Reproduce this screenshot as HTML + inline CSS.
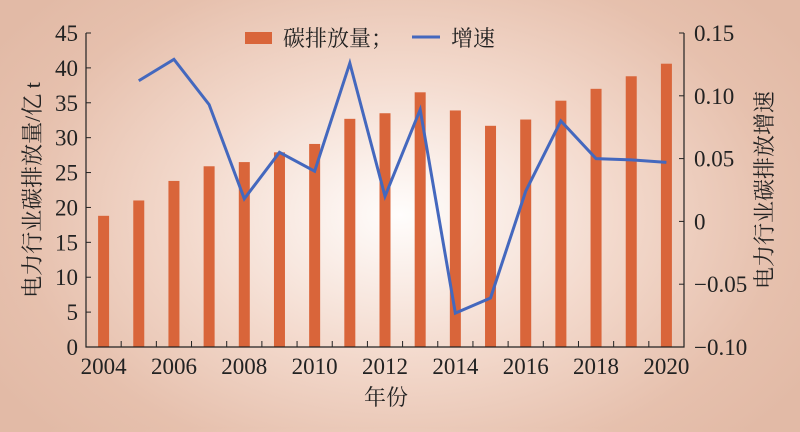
<!DOCTYPE html>
<html><head><meta charset="utf-8"><style>
body{margin:0;width:800px;height:427px;overflow:hidden;background:radial-gradient(ellipse 480px 320px at 400px 215px,#fffdfc 0%,#f3d9cc 45%,#e6c0ad 80%,#e2baa6 100%);}
text{font-family:"Liberation Serif","Noto Serif CJK SC",serif;fill:#222;}
</style></head><body>
<svg id="chart" width="800" height="427" xmlns="http://www.w3.org/2000/svg"></svg>
<script>
const years=["2004","2005","2006","2007","2008","2009","2010","2011","2012","2013","2014","2015","2016","2017","2018","2019","2020"];
const emissions=[18.8,21,23.8,25.9,26.5,27.9,29.1,32.7,33.5,36.5,33.9,31.7,32.6,35.3,37,38.8,40.6];
const growth=[null,0.112,0.129,0.093,0.018,0.055,0.040,0.126,0.020,0.089,-0.073,-0.061,0.024,0.080,0.050,0.049,0.047];
const leftTicks=[0,5,10,15,20,25,30,35,40,45];
const rightTicks=[-0.10,-0.05,0,0.05,0.10,0.15];
const rightLabels=["\u22120.10","\u22120.05","0","0.05","0.10","0.15"];
const xLabels=["2004","2006","2008","2010","2012","2014","2016","2018","2020"];

const svg=document.getElementById('chart');
const NS="http://www.w3.org/2000/svg";
const L=86,R=684,T=33,B=347;
const bw=(R-L)/years.length;
const xc=i=>L+bw*(i+0.5);
const yl=v=>B-(v/45)*(B-T);
const yr=v=>B-((v+0.10)/0.25)*(B-T);
function mk(tag,attrs,parent){const e=document.createElementNS(NS,tag);for(const k in attrs)e.setAttribute(k,attrs[k]);(parent||svg).appendChild(e);return e;}

emissions.forEach((v,i)=>{
  const r=mk('rect',{x:xc(i)-5.5,y:yl(v),width:11,height:B-yl(v),fill:'#d9653a'});
  
  
});
let d='';growth.forEach((g,i)=>{if(g===null)return;d+=(d?'L':'M')+xc(i)+','+yr(g);});
const line=mk('path',{d:d,fill:'none',stroke:'#4468be','stroke-width':3,'stroke-linejoin':'miter'});



// axes
const ax=mk('path',{d:`M${L},${T}V${B}H${R}V${T}`,fill:'none',stroke:'#222','stroke-width':1.2});


leftTicks.forEach(v=>{
  mk('line',{x1:L,x2:L+5,y1:yl(v),y2:yl(v),stroke:'#222'});
  const t=mk('text',{x:L-8,y:yl(v)+8,'text-anchor':'end','font-size':23});t.textContent=v;
  
  
});
rightTicks.forEach((v,i)=>{
  mk('line',{x1:R,x2:R-5,y1:yr(v),y2:yr(v),stroke:'#222'});
  const t=mk('text',{x:R+10,y:yr(v)+8,'font-size':23});t.textContent=rightLabels[i];
  
  
});
for(let i=1;i<years.length;i++){mk('line',{x1:L+bw*i,x2:L+bw*i,y1:B,y2:B-6,stroke:'#222'});}
xLabels.forEach(lb=>{
  const i=years.indexOf(lb);
  const t=mk('text',{x:xc(i),y:B+27,'text-anchor':'middle','font-size':23});t.textContent=lb;
  
  
});
</script>
<svg width="800" height="427" style="position:absolute;left:0;top:0" xmlns="http://www.w3.org/2000/svg">
<text x="386" y="405" text-anchor="middle" font-size="22">年份</text>
<text transform="translate(40,190) rotate(-90)" text-anchor="middle" font-size="22">电力行业碳排放量/亿 t</text>
<text transform="translate(772,190) rotate(-90)" text-anchor="middle" font-size="22">电力行业碳排放增速</text>
<g>
<rect x="245" y="32" width="27" height="12" fill="#d9653a"/>
<text x="283" y="46" font-size="22">碳排放量；</text>
<line x1="412" y1="37" x2="440" y2="37" stroke="#4468be" stroke-width="3"/>
<text x="451" y="46" font-size="22">增速</text>
</g>
</svg>
</body></html>
